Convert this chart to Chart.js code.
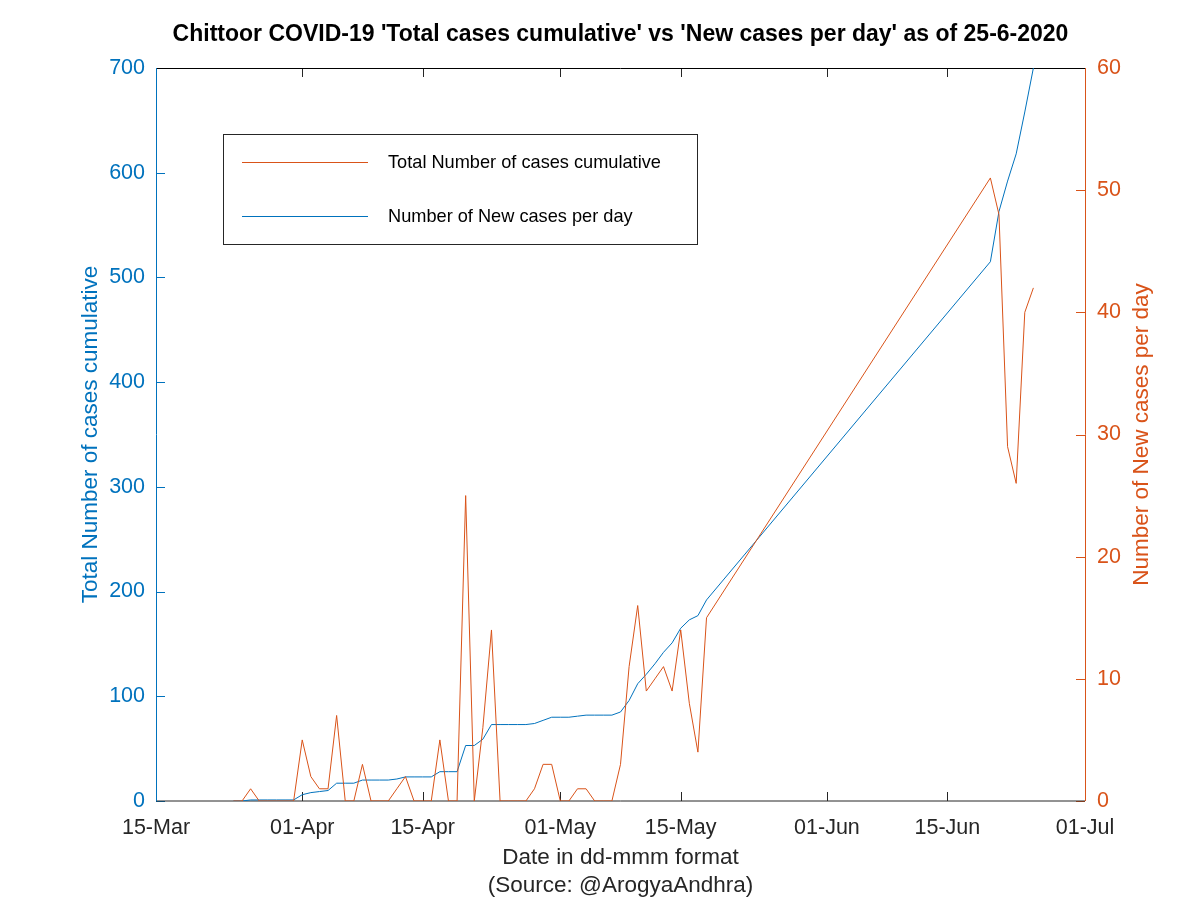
<!DOCTYPE html>
<html lang="en">
<head>
<meta charset="UTF-8">
<title>Chittoor COVID-19</title>
<style>
  body { margin: 0; background: #fff; }
  #wrap { width: 1200px; height: 900px; }
</style>
<script src="https://cdn.jsdelivr.net/npm/chart.js"></script>
</head>
<body>
<div id="wrap"><canvas id="chart" width="1200" height="900"></canvas></div>
<script>
// dates with data (gap between 18-May and 20-Jun as in the source)
var dates = [
  '2020-03-24', '2020-03-25', '2020-03-26', '2020-03-27', '2020-03-28', '2020-03-29', '2020-03-30', '2020-03-31',
  '2020-04-01', '2020-04-02', '2020-04-03', '2020-04-04', '2020-04-05', '2020-04-06', '2020-04-07', '2020-04-08',
  '2020-04-09', '2020-04-10', '2020-04-11', '2020-04-12', '2020-04-13', '2020-04-14', '2020-04-15', '2020-04-16',
  '2020-04-17', '2020-04-18', '2020-04-19', '2020-04-20', '2020-04-21', '2020-04-22', '2020-04-23', '2020-04-24',
  '2020-04-25', '2020-04-26', '2020-04-27', '2020-04-28', '2020-04-29', '2020-04-30', '2020-05-01', '2020-05-02',
  '2020-05-03', '2020-05-04', '2020-05-05', '2020-05-06', '2020-05-07', '2020-05-08', '2020-05-09', '2020-05-10',
  '2020-05-11', '2020-05-12', '2020-05-13', '2020-05-14', '2020-05-15', '2020-05-16', '2020-05-17', '2020-05-18',
  '2020-06-20', '2020-06-21', '2020-06-22', '2020-06-23', '2020-06-24', '2020-06-25'
];
var totalCases = [
  0, 0, 1, 1, 1, 1, 1, 1,
  6, 8, 9, 10, 17, 17, 17, 20,
  20, 20, 20, 21, 23, 23, 23, 23,
  28, 28, 28, 53, 53, 59, 73, 73,
  73, 73, 73, 74, 77, 80, 80, 80,
  81, 82, 82, 82, 82, 85, 96, 112,
  121, 131, 142, 151, 165, 173, 177, 192,
  515, 563, 592, 618, 658, 700
];
var newCases = [
  0, 0, 1, 0, 0, 0, 0, 0,
  5, 2, 1, 1, 7, 0, 0, 3,
  0, 0, 0, 1, 2, 0, 0, 0,
  5, 0, 0, 25, 0, 6, 14, 0,
  0, 0, 0, 1, 3, 3, 0, 0,
  1, 1, 0, 0, 0, 3, 11, 16,
  9, 10, 11, 9, 14, 8, 4, 15,
  51, 48, 29, 26, 40, 42
];
var xTickDates = ['2020-03-15', '2020-04-01', '2020-04-15', '2020-05-01', '2020-05-15', '2020-06-01', '2020-06-15', '2020-07-01'];
var xTickLabels = ['15-Mar', '01-Apr', '15-Apr', '01-May', '15-May', '01-Jun', '15-Jun', '01-Jul'];

var BLUE = '#0072BD';
var ORANGE = '#D95319';
var FONT = "'Liberation Sans', Arial, Helvetica, sans-serif";

function dayOf(iso) {
  return (Date.parse(iso + 'T00:00:00Z') - Date.parse('2020-03-15T00:00:00Z')) / 86400000;
}
var xTickDays = xTickDates.map(dayOf);

Chart.defaults.font.family = FONT;

// MATLAB-like box with inward ticks
var boxPlugin = {
  id: 'boxPlugin',
  beforeDatasetsDraw: function(chart) {
    var ctx = chart.ctx, a = chart.chartArea;
    var x = chart.scales.x, y = chart.scales.y, y1 = chart.scales.y1;
    var tl = 9;
    ctx.save();
    ctx.lineWidth = 1;
    ctx.strokeStyle = '#262626';
    xTickDays.forEach(function(v) {
      var px = Math.round(x.getPixelForValue(v)) + 0.5;
      ctx.beginPath();
      ctx.moveTo(px, a.bottom); ctx.lineTo(px, a.bottom - tl);
      ctx.moveTo(px, a.top); ctx.lineTo(px, a.top + tl);
      ctx.stroke();
    });
    ctx.strokeStyle = BLUE;
    y.ticks.forEach(function(t) {
      var py = Math.round(y.getPixelForValue(t.value)) + 0.5;
      ctx.beginPath(); ctx.moveTo(a.left, py); ctx.lineTo(a.left + tl, py); ctx.stroke();
    });
    ctx.strokeStyle = ORANGE;
    y1.ticks.forEach(function(t) {
      var py = Math.round(y1.getPixelForValue(t.value)) + 0.5;
      ctx.beginPath(); ctx.moveTo(a.right, py); ctx.lineTo(a.right - tl, py); ctx.stroke();
    });
    // frame
    ctx.strokeStyle = '#000';
    ctx.beginPath(); ctx.moveTo(a.left, a.top + 0.5); ctx.lineTo(a.right, a.top + 0.5); ctx.stroke();
    ctx.strokeStyle = '#262626';
    ctx.beginPath(); ctx.moveTo(a.left, a.bottom); ctx.lineTo(a.right, a.bottom); ctx.stroke();
    ctx.strokeStyle = BLUE;
    ctx.beginPath(); ctx.moveTo(a.left + 0.5, a.top); ctx.lineTo(a.left + 0.5, a.bottom); ctx.stroke();
    ctx.strokeStyle = ORANGE;
    ctx.beginPath(); ctx.moveTo(a.right + 0.5, a.top); ctx.lineTo(a.right + 0.5, a.bottom); ctx.stroke();

    // right axis title, reading bottom to top
    ctx.fillStyle = ORANGE;
    ctx.font = '22.5px ' + FONT;
    ctx.textAlign = 'center';
    ctx.textBaseline = 'middle';
    ctx.translate(1142, (a.top + a.bottom) / 2);
    ctx.rotate(-Math.PI / 2);
    ctx.fillText('Number of New cases per day', 0, 0);
    ctx.restore();
  }
};

// legend box inside the plot (labels/colours as in the source figure)
var legendPlugin = {
  id: 'legendPlugin',
  afterDatasetsDraw: function(chart) {
    var ctx = chart.ctx, a = chart.chartArea;
    var bx = a.left + 67, by = a.top + 66, bw = 474, bh = 110;
    var items = [
      { text: 'Total Number of cases cumulative', color: ORANGE },
      { text: 'Number of New cases per day', color: BLUE }
    ];
    ctx.save();
    ctx.fillStyle = '#fff';
    ctx.fillRect(bx, by, bw, bh);
    ctx.strokeStyle = '#262626';
    ctx.lineWidth = 1;
    ctx.strokeRect(bx + 0.5, by + 0.5, bw, bh);
    ctx.font = '18.2px ' + FONT;
    ctx.textBaseline = 'middle';
    ctx.textAlign = 'left';
    items.forEach(function(it, i) {
      var ly = by + 28 + i * 54 + 0.5;
      ctx.strokeStyle = it.color;
      ctx.beginPath(); ctx.moveTo(bx + 19, ly); ctx.lineTo(bx + 145, ly); ctx.stroke();
      ctx.fillStyle = '#000';
      ctx.fillText(it.text, bx + 165, ly);
    });
    ctx.restore();
  }
};

new Chart(document.getElementById('chart'), {
  type: 'line',
  data: {
    datasets: [
      {
        label: 'Number of New cases per day',
        data: dates.map(function(d, i) { return { x: dayOf(d), y: newCases[i] }; }),
        yAxisID: 'y1',
        borderColor: ORANGE,
        borderWidth: 1,
        pointRadius: 0,
        tension: 0,
        fill: false
      },
      {
        label: 'Total Number of cases cumulative',
        data: dates.map(function(d, i) { return { x: dayOf(d), y: totalCases[i] }; }),
        yAxisID: 'y',
        borderColor: BLUE,
        borderWidth: 1,
        pointRadius: 0,
        tension: 0,
        fill: false
      }
    ]
  },
  options: {
    responsive: false,
    animation: false,
    layout: { padding: 0 },
    plugins: {
      legend: { display: false },
      tooltip: { enabled: false },
      title: {
        display: true,
        fullSize: false,
        text: "Chittoor COVID-19 'Total cases cumulative' vs 'New cases per day' as of 25-6-2020",
        color: '#000',
        font: { size: 23, weight: 'bold', lineHeight: 1.2 },
        padding: { top: 21, bottom: 19.4 }
      }
    },
    scales: {
      x: {
        type: 'linear',
        min: 0,
        max: 108,
        grid: { display: false, drawTicks: false },
        border: { display: false },
        afterBuildTicks: function(s) { s.ticks = xTickDays.map(function(v) { return { value: v }; }); },
        afterFit: function(s) { s.height = 99; },
        ticks: {
          autoSkip: false,
          maxRotation: 0,
          padding: 14,
          color: '#262626',
          font: { size: 21.5 },
          callback: function(v) { return xTickLabels[xTickDays.indexOf(v)]; }
        },
        title: {
          display: true,
          text: ['Date in dd-mmm format', '(Source: @ArogyaAndhra)'],
          color: '#262626',
          font: { size: 22.5, lineHeight: 1.245 },
          padding: { top: 0, bottom: 0 }
        }
      },
      y: {
        position: 'left',
        min: 0,
        max: 700,
        grid: { display: false, drawTicks: false },
        border: { display: false },
        afterFit: function(s) { s.width = 156; },
        ticks: { stepSize: 100, padding: 11, color: BLUE, font: { size: 21.5 } },
        title: {
          display: true,
          text: 'Total Number of cases cumulative',
          color: BLUE,
          font: { size: 22.5 },
          padding: { top: 77, bottom: 0 }
        }
      },
      y1: {
        position: 'right',
        min: 0,
        max: 60,
        grid: { display: false, drawTicks: false },
        border: { display: false },
        afterFit: function(s) { s.width = 115; },
        ticks: { stepSize: 10, padding: 12, color: ORANGE, font: { size: 21.5 } }
      }
    }
  },
  plugins: [boxPlugin, legendPlugin]
});
</script>
</body>
</html>
